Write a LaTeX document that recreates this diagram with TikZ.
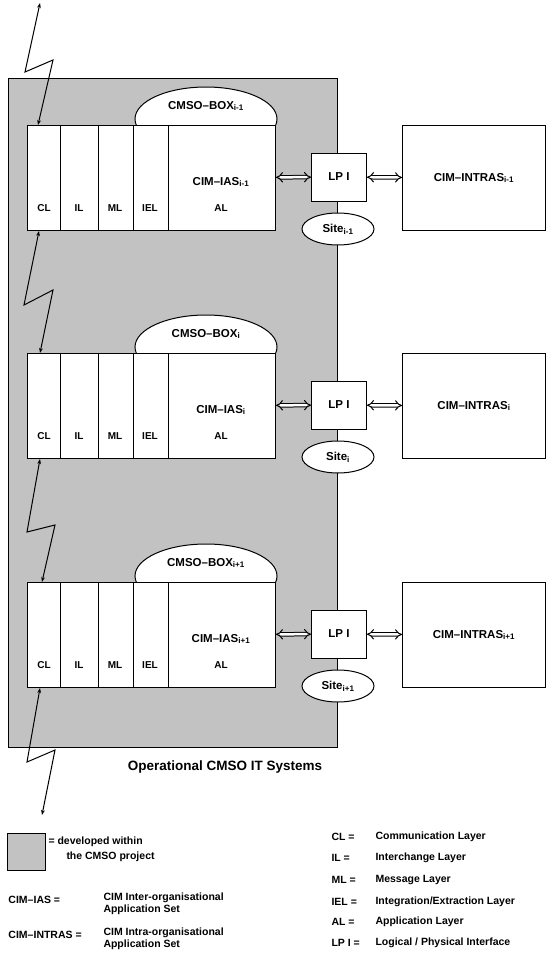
\documentclass[tikz,border=0pt]{standalone}
\usepackage{fontspec}
\setmainfont{Liberation Sans}
\usetikzlibrary{shapes.geometric,arrows.meta}
\definecolor{shade}{gray}{0.76}
\begin{document}
\begin{tikzpicture}[x=1pt, y=-1pt, line width=1pt,
  every node/.style={font=\bfseries\fontsize{11.5}{13}\selectfont, inner sep=1pt},
  small/.style={font=\bfseries\fontsize{10}{12}\selectfont},
  keytext/.style={anchor=west, font=\bfseries\fontsize{10.5}{12.5}\selectfont},
  box/.style={draw, fill=white, anchor=north west, minimum height=105pt},
  oval/.style={draw, fill=white, ellipse},
  zap/.style={{Stealth[length=5pt]}-{Stealth[length=5pt]}},
  dbl/.style={double, double distance=2.5pt, line width=1pt, {Implies}-{Implies}}]
  \useasboundingbox (0,0) rectangle (546,958);
  \node[draw, fill=shade, anchor=north west, minimum width=329pt, minimum height=669pt] (ops) at (8,78) {};
  % the three sites
  \foreach \t/\y/\s in {a/125/i-1, b/353/i, c/582/i+1} {
    \node[oval, minimum width=142pt, minimum height=64pt] (cmso\t) at (206,\y-6) {};
    \node (cmsolbl\t) at (206,\y-19) {CMSO--BOX\textsubscript{\s}};
    \node[box, minimum width=248pt] (ias\t) at (27,\y) {};
    \foreach \x in {60,98,133,168} \draw (\x,\y) -- (\x,\y+105);
    \foreach \x/\l in {44/CL,79/IL,115/ML,150/IEL,221/AL} \node[small] (\l\t) at (\x,\y+83) {\l};
    \node (iaslbl\t) at (221,\y+57) {CIM--IAS\textsubscript{\s}};
    \node[draw, fill=white, minimum width=55pt, minimum height=48pt] (lpi\t) at (339,\y+52) {LP I};
    \node[oval, minimum width=72pt, minimum height=32pt] (site\t) at (338,\y+104) {Site\textsubscript{\s}};
    \node[box, minimum width=143pt] (intras\t) at (402,\y) {CIM--INTRAS\textsubscript{\s}};
    \draw[dbl] (ias\t) -- (lpi\t);
    \draw[dbl] (lpi\t) -- (intras\t);
  }
  % links between the sites
  \coordinate (up) at (40,3); \coordinate (down) at (42,815);
  \draw[zap] (up) -- (25,72) -- (53,60) -- ([xshift=11pt]iasa.north west);
  \draw[zap] ([xshift=12pt]iasa.south west) -- (24,305) -- (53,290) -- ([xshift=13pt]iasb.north west);
  \draw[zap] ([xshift=13pt]iasb.south west) -- (27,532) -- (55,525) -- ([xshift=15pt]iasc.north west);
  \draw[zap] ([xshift=13pt]iasc.south west) -- (27,762) -- (55,750) -- (down);
  \node (caption) at (225,767) {\fontsize{13.5}{15}\selectfont Operational CMSO IT Systems};
  % legend
  \node[draw, fill=shade, minimum width=38pt, minimum height=37pt, anchor=north west] (key) at (7,833) {};
  \node[keytext] (keyA) at (47,842) {= developed within};
  \node[keytext] (keyB) at (65,857) {the CMSO project};
  \node[keytext] (iaskey) at (7,900) {CIM--IAS =};
  \node[keytext, align=left] (iasdef) at (102,904) {CIM Inter-organisational\\Application Set};
  \node[keytext] (intkey) at (7,935) {CIM--INTRAS =};
  \node[keytext, align=left] (intdef) at (102,939) {CIM Intra-organisational\\Application Set};
  \foreach \n/\a/\d/\yy in {a/CL/{Communication Layer}/837, b/IL/{Interchange Layer}/858,
      c/ML/{Message Layer}/880, d/IEL/{Integration/Extraction Layer}/902,
      e/AL/{Application Layer}/922, f/{LP I}/{Logical / Physical Interface}/943} {
    \node[keytext] (ab\n) at (330,\yy) {\a{} =};
    \node[keytext] (def\n) at (374,\yy) {\d};
  }
\end{tikzpicture}
\end{document}
